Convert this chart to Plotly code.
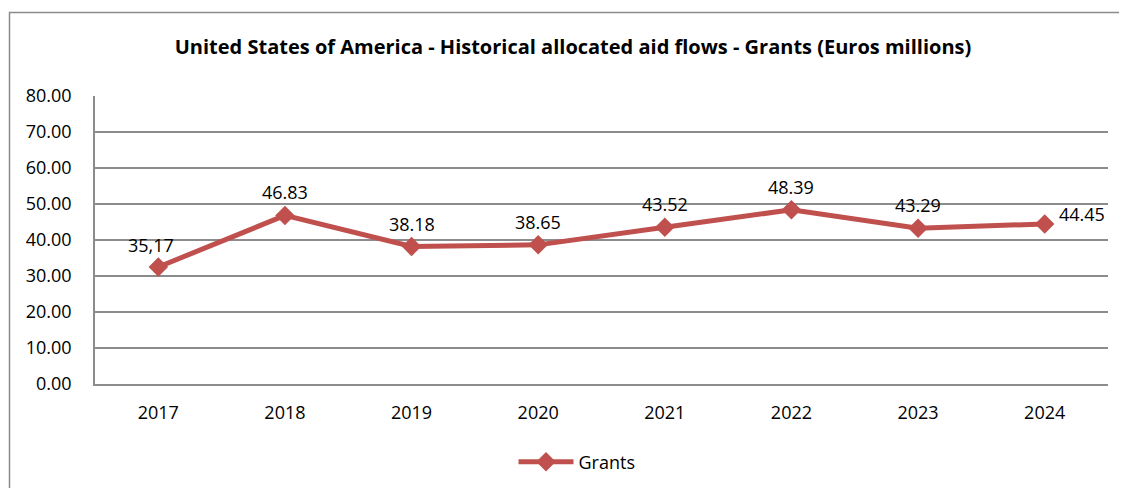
import plotly.graph_objects as go

years = ["2017", "2018", "2019", "2020", "2021", "2022", "2023", "2024"]
grants = [32.5, 46.83, 38.18, 38.65, 43.52, 48.39, 43.29, 44.45]
labels = ["35,17", "46.83", "38.18", "38.65", "43.52", "48.39", "43.29", "44.45"]
y_ticks = [0, 10, 20, 30, 40, 50, 60, 70, 80]

RED = "#C0504D"
FONT = "Open Sans"
OFF = 8  # page body margin
W, H = 1127 - OFF, 488 - OFF
# plot area in page pixels: x 95..1108, y 96..384
L, T = 95 - OFF, 96 - OFF
R = W - (1108 - OFF)
B = H - (384 - OFF)

xpos = list(range(len(years)))

fig = go.Figure()
fig.add_trace(go.Scatter(
    x=xpos, y=grants, mode="lines+markers", name="Grants",
    line=dict(color=RED, width=5),
    marker=dict(symbol="diamond", size=15, color=RED),
))

for i, (xp, v, t) in enumerate(zip(xpos, grants, labels)):
    if i == len(years) - 1:
        fig.add_annotation(x=xp, y=v, text=t, showarrow=False, xanchor="left",
                           xshift=12, yshift=10, font=dict(size=18, color="black", family=FONT))
    elif i == 0:
        fig.add_annotation(x=xp, y=v, text=t, showarrow=False, xshift=-7,
                           yshift=22, font=dict(size=18, color="black", family=FONT))
    else:
        fig.add_annotation(x=xp, y=v, text=t, showarrow=False,
                           yshift=23, font=dict(size=18, color="black", family=FONT))

pw, ph = W - L - R, H - T - B
def px(x): return (x - OFF - L) / pw
def py(y): return (H - B - (y - OFF)) / ph

fig.add_shape(type="rect", xref="paper", yref="paper",
              x0=px(9.5), x1=px(1140), y0=py(12.5), y1=py(500),
              line=dict(color="#8c8c8c", width=1.5), fillcolor="rgba(0,0,0,0)", layer="below")

fig.update_layout(
    width=W, height=H,
    margin=dict(l=L, r=R, t=T, b=B, autoexpand=False),
    paper_bgcolor="white", plot_bgcolor="white",
    font=dict(family=FONT, size=18, color="black"),
    title=dict(text="<b>United States of America - Historical allocated aid flows - Grants (Euros millions)</b>",
               x=(573 - OFF) / W, xanchor="center", y=1 - (47 - OFF) / H, yanchor="middle",
               font=dict(size=20, family=FONT, color="black")),
    showlegend=True,
    legend=dict(orientation="h", x=px(577), xanchor="center", y=py(462), yanchor="middle",
                font=dict(size=18, family=FONT), bgcolor="rgba(0,0,0,0)", itemwidth=55),
    xaxis=dict(range=[-0.5, len(years) - 0.5], tickvals=xpos, ticktext=years,
               showgrid=False, showline=True, linecolor="#8c8c8c", linewidth=1.5,
               ticks="", ticklabelstandoff=12, tickfont=dict(size=18), zeroline=False),
    yaxis=dict(range=[0, 80], tickvals=y_ticks, tickformat=".2f", showgrid=True,
               gridcolor="#8c8c8c", gridwidth=1.5, showline=True, linecolor="#8c8c8c",
               linewidth=1.5, ticks="", zeroline=False, ticklabelstandoff=18,
               tickfont=dict(size=18)),
)

fig.write_html("out.html")
